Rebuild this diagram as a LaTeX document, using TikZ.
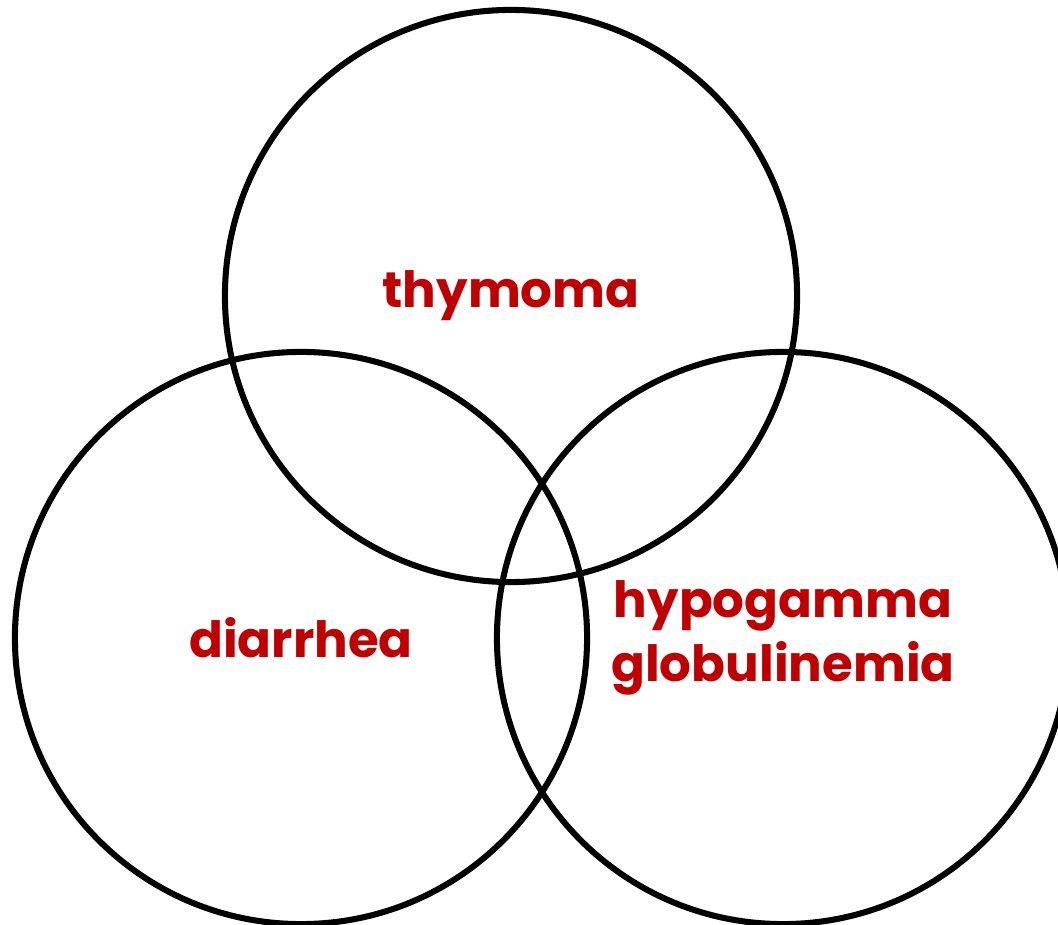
\documentclass[tikz,border=0pt]{standalone}
\usepackage{fontspec}
\setmainfont{Poppins}
\definecolor{labelred}{HTML}{C00000}
\begin{document}
\begin{tikzpicture}[x=0.025cm,y=-0.025cm,
  ring/.style={draw,circle,line width=4.3pt,minimum size=14.3cm,inner sep=0pt,
    font=\fontsize{35.5}{46}\selectfont\bfseries,text=labelred,align=center}]
\useasboundingbox (0,0) rectangle (1058,925);
\node[ring] (thymoma) at (511,296) {thymoma};
\node[ring] (diarrhea) at (301,638) {diarrhea};
\node[ring] (hypo) at (783,638) {hypogamma\\globulinemia};
\end{tikzpicture}
\end{document}
